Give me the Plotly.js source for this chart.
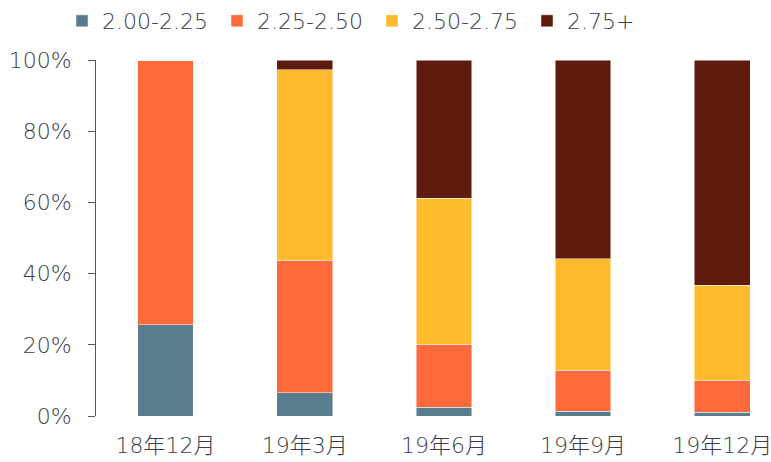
<!DOCTYPE html>
<html><head><meta charset="utf-8">
<script src="https://cdn.plot.ly/plotly-3.0.1.min.js"></script>
<style>html,body{margin:0;padding:0;background:#fff}#chart{width:771px;height:462px}</style>
</head><body><div id="chart"></div>
<script>
const categories = ['18年12月', '19年3月', '19年6月', '19年9月', '19年12月'];
const seriesNames = ['2.00-2.25', '2.25-2.50', '2.50-2.75', '2.75+'];
const s2000_2225 = [25.6, 6.6, 2.4, 1.4, 1.0];
const s2225_2250 = [74.4, 37.2, 17.7, 11.4, 9.0];
const s2500_2750 = [0, 53.5, 41.1, 31.4, 26.7];
const s2750plus = [0, 2.7, 38.8, 55.8, 63.2];
const colors = ['#587d8e', '#ff6a3a', '#ffbb2e', '#5e1b0e'];
const yTicks = [0, 20, 40, 60, 80, 100];
const yTickText = ['0%', '20%', '40%', '60%', '80%', '100%'];

const allSeries = [s2000_2225, s2225_2250, s2500_2750, s2750plus];
const font = "'DejaVu Sans', 'Noto Sans CJK SC', sans-serif";
const txt = {family: font, size: 22, color: '#3c3c48', weight: 200};
const data = allSeries.map((vals, i) => ({
  type: 'bar', name: seriesNames[i], x: categories, y: vals,
  marker: {color: colors[i], line: {color: 'rgba(255,255,255,0.6)', width: 0.8}},
  width: 0.4, hoverinfo: 'skip'
}));
const layout = {
  width: 771, height: 462, barmode: 'stack',
  margin: {l: 96, r: 0, t: 60, b: 46, autoexpand: false},
  paper_bgcolor: '#fff', plot_bgcolor: '#fff',
  font: txt,
  showlegend: true,
  legend: {orientation: 'h', x: 62/771, xref: 'container', y: 1, yref: 'container', yanchor: 'top',
    entrywidth: 110, entrywidthmode: 'pixels', font: txt, traceorder: 'normal'},
  xaxis: {type: 'category', range: [-0.5, 4.35], showline: false, ticks: '', showgrid: false,
    tickfont: txt, ticklabelstandoff: 14, fixedrange: true},
  yaxis: {range: [0, 100], tickvals: yTicks, ticktext: yTickText, showgrid: false, zeroline: false,
    showline: true, linecolor: '#555560', linewidth: 1, ticks: 'outside', ticklen: 7, tickcolor: '#555560',
    tickfont: txt, ticklabelstandoff: 12, fixedrange: true}
};
Plotly.newPlot('chart', data, layout, {displayModeBar: false, staticPlot: true});
</script></body></html>
